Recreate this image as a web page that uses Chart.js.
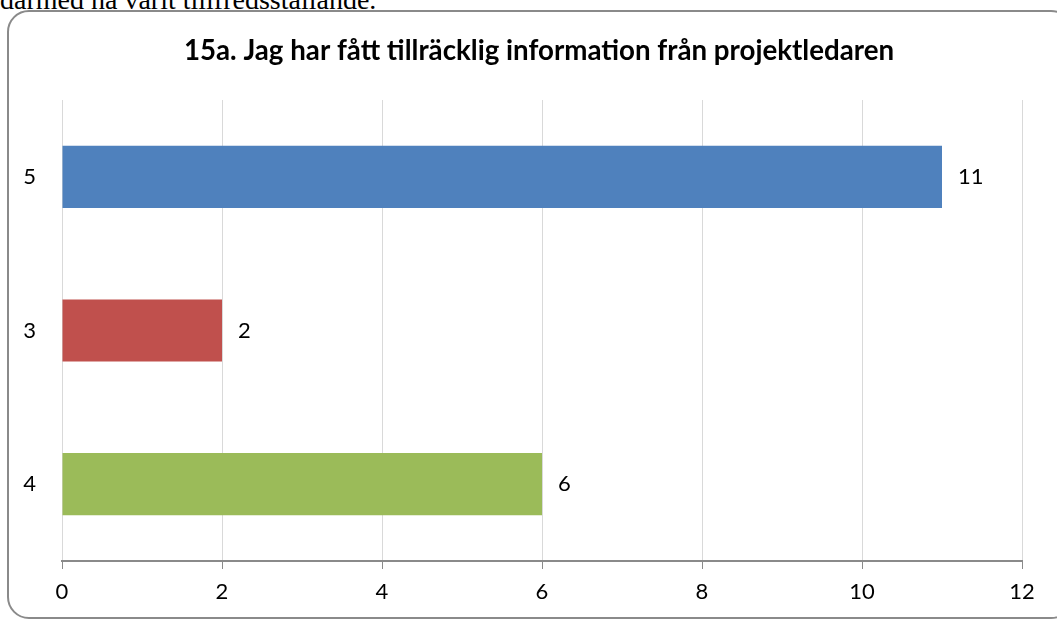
<!DOCTYPE html>
<html>
<head>
<meta charset="utf-8">
<script src="https://cdn.jsdelivr.net/npm/chart.js@4"></script>
<style>
  html, body { margin: 0; padding: 0; background: #fff; overflow: hidden; }
  #wrap { position: relative; width: 1057px; height: 619px; }
  #above {
    position: absolute; left: 0; top: -16px;
    font-family: "Liberation Serif", serif; font-size: 28px; color: #000;
    white-space: nowrap;
  }
  #frame {
    position: absolute; left: 7px; top: 10px; width: 1062px; height: 605px;
    border: 2px solid #8a8a8a; border-radius: 22px; background: transparent;
  }
  #myChart { position: absolute; left: 0; top: 0; }
</style>
</head>
<body>
<div id="wrap">
  <div id="above">därmed ha varit tillfredsställande.</div>
  <div id="frame"></div>
  <canvas id="myChart" width="1057" height="619"></canvas>
</div>
<script>
const chartTitle = '15a. Jag har fått tillräcklig information från projektledaren';
const categories = ['5', '3', '4'];
const counts = [11, 2, 6];
const barColors = ['#4F81BD', '#C0504D', '#9BBB59'];
const xTicks = [0, 2, 4, 6, 8, 10, 12];

const fontFamily = 'Lato, "Open Sans", sans-serif';

// title centred on the frame, not on the plot
const frameTitle = {
    id: 'frameTitle',
    afterDraw(chart) {
        const ctx = chart.ctx;
        ctx.save();
        ctx.font = 'bold 27.7px ' + fontFamily;
        ctx.fillStyle = '#000';
        ctx.textAlign = 'center';
        ctx.textBaseline = 'middle';
        ctx.fillText(chartTitle, 539, 51);
        ctx.restore();
    }
};

// writes the value just right of each bar end
const valueLabels = {
    id: 'valueLabels',
    afterDatasetsDraw(chart) {
        const ctx = chart.ctx;
        const meta = chart.getDatasetMeta(0);
        ctx.save();
        ctx.font = '22px ' + fontFamily;
        ctx.fillStyle = '#000';
        ctx.textAlign = 'left';
        ctx.textBaseline = 'middle';
        meta.data.forEach((bar, i) => {
            ctx.fillText(String(counts[i]), bar.x + 16, bar.y);
        });
        ctx.restore();
    }
};

const ctx = document.getElementById('myChart').getContext('2d');
const chart = new Chart(ctx, {
    type: 'bar',
    data: {
        labels: categories,
        datasets: [{
            data: counts,
            backgroundColor: barColors,
            borderWidth: 0,
            categoryPercentage: 1,
            barPercentage: 0.405
        }]
    },
    options: {
        indexAxis: 'y',
        responsive: false,
        animation: false,
        layout: { padding: { left: 0, right: 35, top: 100, bottom: 0 } },
        plugins: {
            legend: { display: false },
            tooltip: { enabled: false },
            title: { display: false }
        },
        scales: {
            x: {
                min: 0,
                max: 12,
                afterBuildTicks: (axis) => { axis.ticks = xTicks.map(v => ({ value: v })); },
                afterFit: (axis) => { axis.height = 58; },
                grid: {
                    color: '#d9d9d9',
                    lineWidth: 1,
                    tickColor: '#8a8a8a',
                    tickLength: 8,
                    drawTicks: true
                },
                border: { display: true, color: '#8a8a8a', width: 2 },
                ticks: {
                    color: '#000',
                    padding: 10,
                    font: { family: fontFamily, size: 22 }
                }
            },
            y: {
                afterFit: (axis) => { axis.width = 62; },
                grid: { display: false, drawTicks: false },
                border: { display: false },
                ticks: {
                    color: '#000',
                    padding: 26,
                    font: { family: fontFamily, size: 22 }
                }
            }
        }
    },
    plugins: [valueLabels, frameTitle]
});
</script>
</body>
</html>
